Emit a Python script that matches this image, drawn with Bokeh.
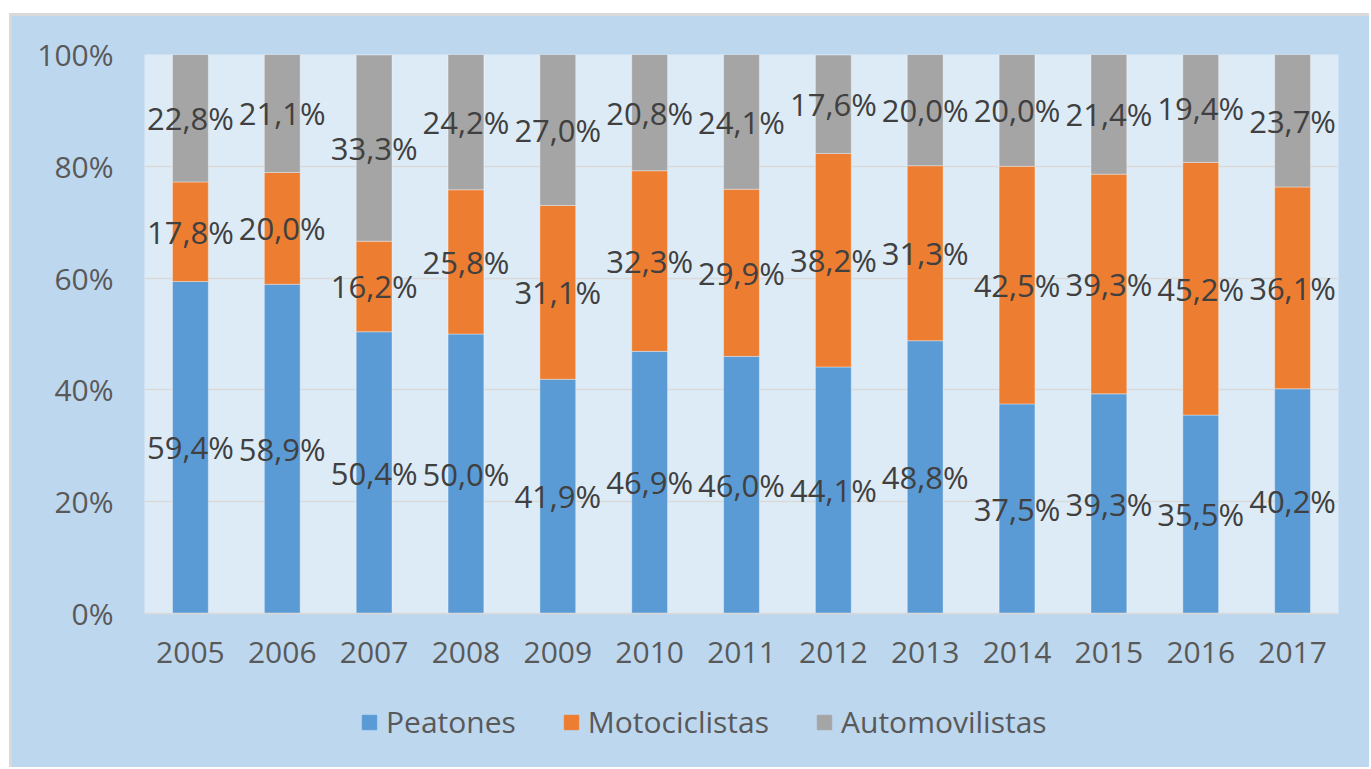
from bokeh.plotting import figure
from bokeh.layouts import column
from bokeh.models import (ColumnDataSource, FactorRange, Legend, LegendItem,
                          PrintfTickFormatter, FixedTicker)
from bokeh.core.properties import value
from bokeh.embed import file_html
from bokeh.resources import INLINE

years = ["2005", "2006", "2007", "2008", "2009", "2010", "2011", "2012",
         "2013", "2014", "2015", "2016", "2017"]
peatones = [59.4, 58.9, 50.4, 50.0, 41.9, 46.9, 46.0, 44.1, 48.8, 37.5, 39.3, 35.5, 40.2]
motociclistas = [17.8, 20.0, 16.2, 25.8, 31.1, 32.3, 29.9, 38.2, 31.3, 42.5, 39.3, 45.2, 36.1]
automovilistas = [22.8, 21.1, 33.3, 24.2, 27.0, 20.8, 24.1, 17.6, 20.0, 20.0, 21.4, 19.4, 23.7]
series = ["Peatones", "Motociclistas", "Automovilistas"]
colors = ["#5B9BD5", "#ED7D31", "#A5A5A5"]
y_ticks = [0, 20, 40, 60, 80, 100]

FONT = "Open Sans"
OUTER = "#BDD7EE"

source = ColumnDataSource(dict(years=years, Peatones=peatones,
                               Motociclistas=motociclistas,
                               Automovilistas=automovilistas))

p = figure(x_range=FactorRange(*years), y_range=(0, 100),
           frame_width=1194, frame_height=559,
           output_backend="svg", toolbar_location=None,
           min_border_left=132, min_border_right=31, min_border_top=38,
           min_border_bottom=70)
p.border_fill_color = OUTER
p.background_fill_color = "#DDEBF7"
p.outline_line_color = None

rs = p.vbar_stack(series, x="years", width=0.39, color=colors, source=source,
                  line_color="white", line_alpha=0.35, line_width=1)

# data labels centered in each segment
lx, ly, lt = [], [], []
for i, yr in enumerate(years):
    base = 0.0
    for vals in (peatones, motociclistas, automovilistas):
        v = vals[i]
        lx.append(yr)
        ly.append(base + v / 2)
        lt.append(f"{v:.1f}%".replace(".", ","))
        base += v
p.text(x=lx, y=ly, text=lt, text_align="center", text_baseline="middle",
       text_font=value(FONT), text_font_size="31px", text_color="#404040")

p.xgrid.grid_line_color = None
p.ygrid.grid_line_color = "#D9D9D9"
p.ygrid.grid_line_width = 1.5
p.yaxis.ticker = FixedTicker(ticks=y_ticks)
p.yaxis.formatter = PrintfTickFormatter(format="%d%%")
p.yaxis.axis_line_color = None
p.yaxis.major_tick_line_color = None
p.yaxis.minor_tick_line_color = None
p.yaxis.major_label_standoff = 25
p.xaxis.axis_line_color = "#D9D9D9"
p.xaxis.axis_line_width = 1.5
p.xaxis.major_tick_line_color = None
p.xaxis.major_label_standoff = 22
for ax in (p.xaxis, p.yaxis):
    ax.major_label_text_font = FONT
    ax.major_label_text_font_size = "30px"
    ax.major_label_text_color = "#595959"

# legend strip below the chart
lf = figure(width=1357, height=84, x_range=(0, 1), y_range=(0, 1),
            output_backend="svg", toolbar_location=None,
            x_axis_type=None, y_axis_type=None,
            min_border_left=132, min_border_right=31,
            min_border_top=0, min_border_bottom=0)
lf.border_fill_color = OUTER
lf.background_fill_alpha = 0
lf.outline_line_color = None
lf.xgrid.grid_line_color = None
lf.ygrid.grid_line_color = None
# swatch renderers for the legend (kept outside the visible range)
dummies = [lf.vbar(x=[-5], top=[-5], bottom=[-6], width=0.1, color=c) for c in colors]

legend = Legend(items=[LegendItem(label=s, renderers=[r]) for s, r in zip(series, dummies)],
                orientation="horizontal", location=(216, 25),
                background_fill_alpha=0, border_line_color=None,
                label_text_font=FONT, label_text_font_size="30px",
                label_text_color="#595959", glyph_width=18, glyph_height=18,
                label_standoff=8, spacing=46, margin=0, padding=0)
lf.add_layout(legend, "center")

layout = column(p, lf, spacing=0,
                styles={"margin-top": "13px", "margin-left": "9px",
                        "border-top": "3px solid #D9D9D9",
                        "border-left": "3px solid #D9D9D9",
                        "background-color": OUTER})

open("out.html", "w").write(file_html(layout, INLINE))
